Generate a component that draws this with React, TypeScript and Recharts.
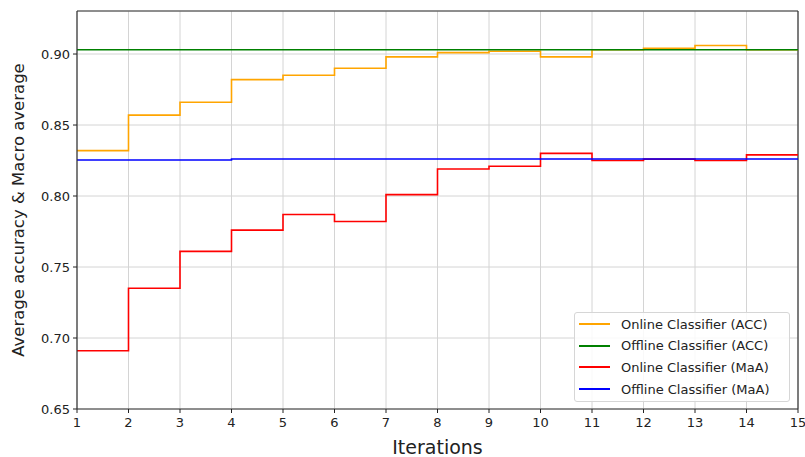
import React from 'react';
import {
  LineChart,
  Line,
  XAxis,
  YAxis,
  CartesianGrid,
  ReferenceLine,
} from 'recharts';

const iterations = [1, 2, 3, 4, 5, 6, 7, 8, 9, 10, 11, 12, 13, 14, 15];
const onlineAcc = [0.832, 0.857, 0.866, 0.882, 0.885, 0.89, 0.898, 0.901, 0.902, 0.898, 0.903, 0.904, 0.906, 0.903, 0.903];
const offlineAcc = [0.903, 0.903, 0.903, 0.903, 0.903, 0.903, 0.903, 0.903, 0.903, 0.903, 0.903, 0.903, 0.903, 0.903, 0.903];
const onlineMaa = [0.691, 0.735, 0.761, 0.776, 0.787, 0.782, 0.801, 0.819, 0.821, 0.83, 0.825, 0.826, 0.825, 0.829, 0.829];
const offlineMaa = [0.8254, 0.8254, 0.8254, 0.8261, 0.8261, 0.8261, 0.8261, 0.8261, 0.8261, 0.8261, 0.8261, 0.8261, 0.8261, 0.8261, 0.8261];
const yTicks = [0.65, 0.7, 0.75, 0.8, 0.85, 0.9];

const series = [
  { key: 'onlineAcc', name: 'Online Classifier (ACC)', color: '#FFA500' },
  { key: 'offlineAcc', name: 'Offline Classifier (ACC)', color: '#008000' },
  { key: 'onlineMaa', name: 'Online Classifier (MaA)', color: '#FF0000' },
  { key: 'offlineMaa', name: 'Offline Classifier (MaA)', color: '#0000FF' },
];

const data = iterations.map((it, i) => ({
  it,
  onlineAcc: onlineAcc[i],
  offlineAcc: offlineAcc[i],
  onlineMaa: onlineMaa[i],
  offlineMaa: offlineMaa[i],
}));

const font = '"DejaVu Sans", sans-serif';
const yMax = 0.9303;

// legend drawn over the chart, matplotlib "lower right" style
const LegendBox = () => (
  <div
    style={{
      position: 'absolute',
      left: 566,
      top: 304,
      width: 214,
      height: 88,
      border: '1px solid #d6d6d6',
      borderRadius: 3,
      background: 'rgba(255,255,255,0.85)',
      fontFamily: font,
      fontSize: 13,
      color: '#222',
    }}
  >
    {series.map((s, i) => (
      <div
        key={s.key}
        style={{ position: 'absolute', left: 4, top: 1 + i * 21.7, height: 20, display: 'flex', alignItems: 'center' }}
      >
        <svg width={31} height={4} style={{ display: 'block' }}>
          <line x1={0} y1={2} x2={31} y2={2} stroke={s.color} strokeWidth={2} />
        </svg>
        <span style={{ marginLeft: 11, whiteSpace: 'nowrap' }}>{s.name}</span>
      </div>
    ))}
  </div>
);

const YLabel = (props: any) => {
  const vb = props.viewBox || {};
  const cy = (vb.y ?? 3) + (vb.height ?? 398) / 2;
  return (
    <text
      x={10}
      y={cy}
      transform={`rotate(-90 10 ${cy})`}
      textAnchor="middle"
      dominantBaseline="central"
      fontFamily={font}
      fontSize={16.5}
      fill="#222"
    >
      Average accuracy &amp; Macro average
    </text>
  );
};

const XLabel = (props: any) => {
  const vb = props.viewBox || {};
  const cx = (vb.x ?? 69) + (vb.width ?? 721) / 2;
  return (
    <text x={cx} y={446} textAnchor="middle" fontFamily={font} fontSize={19} fill="#222">
      Iterations
    </text>
  );
};

export default function App() {
  return (
    <div style={{ position: 'absolute', left: 8, top: 8, width: 797, height: 449 }}>
      <LineChart
        width={797}
        height={449}
        data={data}
        margin={{ top: 3, right: 7, bottom: 0, left: 0 }}
        style={{ overflow: 'visible' }}
      >
        <CartesianGrid stroke="#d4d4d4" strokeWidth={1} />
        <XAxis
          dataKey="it"
          type="number"
          domain={[1, 15]}
          ticks={iterations}
          height={48}
          interval={0}
          tickSize={4}
          tickMargin={5}
          stroke="#222"
          axisLine={{ stroke: '#333', strokeWidth: 1.2 }}
          tick={{ fontFamily: font, fontSize: 13, fill: '#222' }}
          label={<XLabel />}
        />
        <YAxis
          type="number"
          domain={[0.65, yMax]}
          ticks={yTicks}
          allowDataOverflow
          width={69}
          tickSize={4}
          tickMargin={3}
          stroke="#222"
          axisLine={{ stroke: '#333', strokeWidth: 1.2 }}
          tick={{ fontFamily: font, fontSize: 13, fill: '#222' }}
          tickFormatter={(v: number) => v.toFixed(2)}
          label={<YLabel />}
        />
        <ReferenceLine y={yMax} stroke="#333" strokeWidth={1.2} />
        <ReferenceLine x={15} stroke="#333" strokeWidth={1.2} />
        {series.map((s) => (
          <Line
            key={s.key}
            type="stepAfter"
            dataKey={s.key}
            name={s.name}
            stroke={s.color}
            strokeWidth={1.6}
            dot={false}
            activeDot={false}
            isAnimationActive={false}
          />
        ))}
      </LineChart>
      <LegendBox />
    </div>
  );
}
